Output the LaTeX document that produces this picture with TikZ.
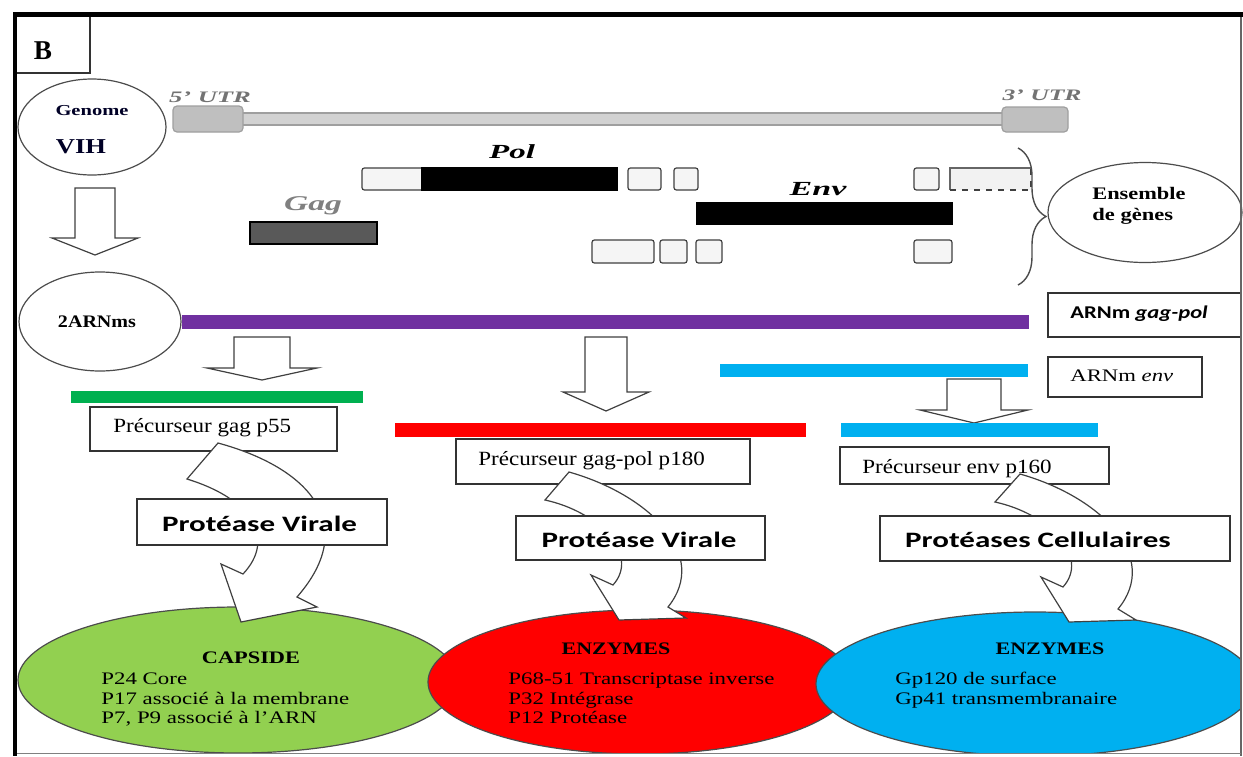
\documentclass[tikz,border=0pt]{standalone}
\usepackage{fontspec}
\setmainfont{Liberation Serif}
\newfontfamily\calibfont{Carlito}
\usepackage{graphicx}
\usetikzlibrary{shapes.geometric,decorations.pathreplacing}
\definecolor{purp}{HTML}{7030A0}
\definecolor{grn}{HTML}{00B050}
\definecolor{cyn}{HTML}{00B0F0}
\definecolor{lgrn}{HTML}{92D050}
\definecolor{rd}{HTML}{FF0000}
\newcommand\fsz[1]{\fontsize{#1}{#1}\selectfont}
\newcommand\hxs[2]{\scalebox{#1}[1]{#2}}
\newcommand\blockdown[6]{\draw[blk] (#1-#3,#2) -- (#1+#3,#2) -- (#1+#3,#4) -- (#1+#5,#4) -- (#1,#6) -- (#1-#5,#4) -- (#1-#3,#4) -- cycle;}
\begin{document}
\begin{tikzpicture}[x=0.5pt,y=-0.5pt,
  box/.style={draw=black!80, line width=0.8pt, fill=white, rectangle, inner sep=0pt},
  blk/.style={draw=black!75, line width=0.6pt, fill=white, line join=miter},
  oval/.style={ellipse, draw=black!70, line width=0.6pt, inner sep=0pt},
  txt/.style={inner sep=0pt, text=black},
  gb/.style={draw=black!75, line width=0.6pt, rounded corners=1.2pt, fill=gray!8},
]
\useasboundingbox[fill=white] (0,0) rectangle (1243,756);

% ---------- genome ----------
\node[oval, minimum width=74pt, minimum height=48pt] (genome) at (92,127) {};
\node[txt, text=black!85!blue] (tgenome) at (92,111) {\fsz{7.6}\bfseries\hxs{1.35}{Genome}};
\node[txt, text=black!85!blue] (tvih) at (81,147) {\fsz{10.6}\bfseries\hxs{1.25}{VIH}};

% UTR line
\draw[fill=gray!35, draw=gray!75, line width=0.6pt] (240,113) rectangle (1004,125);
\draw[fill=gray!50, draw=gray!75, line width=0.6pt, rounded corners=2pt] (173,106) rectangle (243,132);
\draw[fill=gray!50, draw=gray!75, line width=0.6pt, rounded corners=2pt] (1002,107) rectangle (1068,132);
\node[txt, text=black!55] (utr5) at (210,97) {\fsz{8}\bfseries\itshape\hxs{1.66}{5' UTR}};
\node[txt, text=black!55] (utr3) at (1042,95) {\fsz{8}\bfseries\itshape\hxs{1.6}{3' UTR}};

% genes
\node[txt] (tpol) at (512,152) {\fsz{10}\bfseries\itshape\hxs{1.65}{Pol}};
\node[txt] (tenv) at (818,189) {\fsz{10}\bfseries\itshape\hxs{1.7}{Env}};
\node[txt, text=black!50] (tgag) at (313,206) {\fsz{10.5}\bfseries\itshape\hxs{1.6}{Gag}};
\draw[gb] (362,168) rectangle (424,190);
\draw[fill=black, draw=black, line width=0.6pt] (422,168) rectangle (617,190);
\draw[gb] (628,168) rectangle (661,190);
\draw[gb] (674,168) rectangle (698,190);
\draw[gb] (914,168) rectangle (939,190);
\fill[gray!10] (950,168) rectangle (1031,190);
\draw[black!60, line width=0.6pt] (1031,168) -- (950,168) -- (950,190);
\draw[black!75, line width=0.6pt, dashed] (950,190) -- (1031,190) -- (1031,168);
\draw[fill=black, draw=black, line width=0.6pt] (697,203) rectangle (952,224);
\draw[fill=black!65, draw=black, line width=0.6pt] (250,222) rectangle (377,244);
\draw[gb] (592,240) rectangle (654,263);
\draw[gb] (660,240) rectangle (687,263);
\draw[gb] (696,240) rectangle (722,263);
\draw[gb] (914,240) rectangle (952,263);

% brace + ensemble
\draw[decorate, decoration={brace, amplitude=14pt}, draw=black!70, line width=0.7pt] (1018,148) -- (1018,285);
\node[oval, minimum width=97pt, minimum height=50pt] (ens) at (1145,212.5) {};
\node[txt, anchor=base west] (tens1) at (1092,199) {\fsz{8.8}\bfseries\hxs{1.27}{Ensemble}};
\node[txt, anchor=base west] (tens2) at (1092,220) {\fsz{8.8}\bfseries\hxs{1.28}{de gènes}};

% ---------- mRNA ----------
\blockdown{95}{188}{20}{238}{43}{255}
\node[oval, minimum width=81pt, minimum height=49.5pt] (arn) at (100,321.5) {};
\node[txt] (tarn) at (97,322) {\fsz{8.8}\bfseries\hxs{1.14}{2ARNms}};
\fill[purp] (182,315) rectangle (1029,329);
\node[box, minimum width=96.5pt, minimum height=22pt] (bgagpol) at (1144.5,315) {};
\node[txt, anchor=base west] (tgagpol) at (1070,318) {\calibfont\fsz{9}\bfseries\hxs{1.26}{ARNm \textit{gag-pol}}};
\node[box, minimum width=77pt, minimum height=20pt] (benv) at (1125,377) {};
\node[txt, anchor=base west] (tarnenv) at (1070,381) {\fsz{8.8}\hxs{1.29}{ARNm \textit{env}}};
\fill[cyn] (720,364) rectangle (1028,377);

\blockdown{262}{337}{28}{368}{55}{380}
\blockdown{606}{337}{21}{392}{43}{411}
\blockdown{974}{379}{27}{410}{54}{423}

\fill[grn] (71,391) rectangle (363,403);
\fill[rd] (395,423) rectangle (806,437);
\fill[cyn] (841,423) rectangle (1098,437);

% ---------- bottom ellipses ----------
\begin{scope}
\clip (15,560) rectangle (1241,753.5);
\node[oval, fill=lgrn, minimum width=220pt, minimum height=73pt] (capside) at (238,680) {};
\node[oval, fill=rd, minimum width=212pt, minimum height=72pt] (enzr) at (640,682) {};
\node[oval, fill=cyn, minimum width=219pt, minimum height=72pt] (enzb) at (1035,684) {};
\end{scope}

% ---------- precursors ----------
\node[box, minimum width=123.5pt, minimum height=22pt] (p55) at (213.5,429) {};
\node[txt, anchor=base west] (tp55) at (113,432) {\fsz{10.1}\hxs{1.14}{Précurseur gag p55}};
\node[box, minimum width=147pt, minimum height=22.5pt] (p180) at (603,461.5) {};
\node[txt, anchor=base west] (tp180) at (478,465) {\fsz{10.1}\hxs{1.14}{Précurseur gag-pol p180}};
\node[box, minimum width=134.5pt, minimum height=18.5pt] (p160) at (974.5,465.5) {};
\node[txt, anchor=base west] (tp160) at (862,473) {\fsz{10.1}\hxs{1.14}{Précurseur env p160}};

% ---------- curved arrows ----------
\draw[blk] (218,443) .. controls (310,468) and (360,525) .. (297,597) -- (317,607) -- (241,622) -- (221,564) -- (243,574) .. controls (275,540) and (255,500) .. (187,479) -- cycle;
\draw[blk] (569,472) .. controls (650,495) and (710,555) .. (668,607) -- (686,618) -- (619,620) -- (591,575) -- (613,585) .. controls (640,555) and (600,512) .. (545,500) -- cycle;
\draw[blk] (1020,474) .. controls (1101,497) and (1161,557) .. (1118,609) -- (1136,620) -- (1069,622) -- (1041,577) -- (1063,587) .. controls (1090,557) and (1050,514) .. (995,502) -- cycle;

% ---------- proteases ----------
\node[box, minimum width=125pt, minimum height=23pt] (protl) at (262,522) {};
\node[txt, anchor=base] (tprotl) at (259.5,531) {\calibfont\fsz{11}\bfseries\hxs{1.41}{Protéase Virale}};
\node[box, minimum width=124.5pt, minimum height=22pt] (protm) at (640.5,538) {};
\node[txt, anchor=base] (tprotm) at (639,547) {\calibfont\fsz{11}\bfseries\hxs{1.41}{Protéase Virale}};
\node[box, minimum width=175pt, minimum height=22.5pt] (protc) at (1055,538.5) {};
\node[txt, anchor=base] (tprotc) at (1038,547) {\calibfont\fsz{11}\bfseries\hxs{1.41}{Protéases Cellulaires}};

% ---------- ellipse texts ----------
\node[txt, anchor=base] (tcap) at (251,663) {\fsz{8.8}\bfseries\hxs{1.27}{CAPSIDE}};
\node[txt, anchor=base west] (c1) at (101,684) {\fsz{8.8}\hxs{1.3}{P24 Core}};
\node[txt, anchor=base west] (c2) at (101,704) {\fsz{8.8}\hxs{1.3}{P17 associé à la membrane}};
\node[txt, anchor=base west] (c3) at (101,723) {\fsz{8.8}\hxs{1.3}{P7, P9 associé à l'ARN}};
\node[txt, anchor=base] (tenzr) at (616,654) {\fsz{8.8}\bfseries\hxs{1.25}{ENZYMES}};
\node[txt, anchor=base west] (r1) at (508,684) {\fsz{8.8}\hxs{1.3}{P68-51 Transcriptase inverse}};
\node[txt, anchor=base west] (r2) at (508,704) {\fsz{8.8}\hxs{1.3}{P32 Intégrase}};
\node[txt, anchor=base west] (r3) at (508,723) {\fsz{8.8}\hxs{1.3}{P12 Protéase}};
\node[txt, anchor=base] (tenzb) at (1050,654) {\fsz{8.8}\bfseries\hxs{1.25}{ENZYMES}};
\node[txt, anchor=base west] (b1) at (895,684) {\fsz{8.8}\hxs{1.3}{Gp120 de surface}};
\node[txt, anchor=base west] (b2) at (895,704) {\fsz{8.8}\hxs{1.3}{Gp41 transmembranaire}};

% ---------- frame ----------
\node[box, minimum width=37.5pt, minimum height=29pt] (bbox) at (52.5,44) {};
\node[txt] (tb) at (43,51) {\fsz{13.6}\bfseries B};
\draw[black!60, line width=0.6pt] (1241,17) -- (1241,756);
\draw[black!50, line width=0.6pt] (15,753.5) -- (1241,753.5);
\draw[line width=2.5pt] (13,14.5) -- (1243,14.5);
\draw[line width=2pt] (15,12) -- (15,756);
\end{tikzpicture}
\end{document}
